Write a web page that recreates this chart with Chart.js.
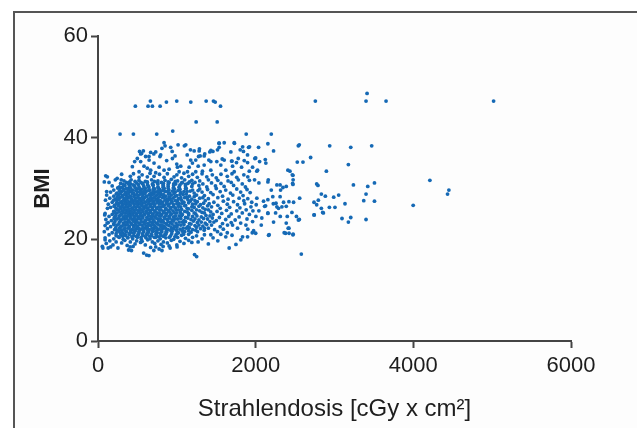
<!DOCTYPE html>
<html>
<head>
<meta charset="utf-8">
<script src="https://cdn.jsdelivr.net/npm/chart.js@4.4.0/dist/chart.umd.min.js"></script>
<style>
  html, body { margin: 0; padding: 0; background: #fff; }
  #wrap { position: relative; width: 637px; height: 428px; overflow: hidden; }
  #frame { position: absolute; left: 13px; top: 11px; right: -5px; bottom: -5px;
           border-left: 2px solid #555; border-top: 2px solid #555; background: #fdfdfd; }
  #chart { position: absolute; left: 0; top: 0; }
</style>
</head>
<body>
<div id="wrap">
  <div id="frame"></div>
  <canvas id="chart" width="637" height="428"></canvas>
</div>
<script>
// Strahlendosis [cGy x cm²] vs. BMI
const xTicks = [0, 2000, 4000, 6000];
const yTicks = [0, 20, 40, 60];

// isolated high values
const outlierPoints = [
  [474,46.2],[635,46.2],[665,47.2],[690,46.2],[788,46.2],[868,47.0],[999,47.2],[1177,47.0],
  [1372,47.2],[1465,47.2],[1487,47.0],[1554,46.2],[2757,47.2],[3413,48.7],[3400,47.2],
  [3654,47.2],[5018,47.2],[1245,43.1],[1512,43.1],
  [280,40.7],[449,40.7],[745,40.7],[948,41.3],[1880,40.7],[2198,40.7]
];

// sparse tail to the right (> ~2000 cGy)
const tailPoints = [
  [2155,38.8],[2541,38.4],[2939,38.4],[3206,38.1],[3472,38.4],[2037,38.1],[2227,37.4],[2697,36.1],
  [2528,35.2],[2600,35.2],[2122,35.7],[2897,33.4],[3176,34.7],[2435,33.4],[2473,32.6],[2015,33.4],
  [3507,31.1],[3422,30.4],[3240,30.7],[2774,30.9],[2790,30.6],[3400,28.9],[3371,27.6],[3507,27.5],
  [4210,31.6],[3998,26.7],[4451,29.7],[4434,28.9],[2558,28.1],[2740,27.3],[2795,27.7],[2833,28.9],
  [2884,28.5],[2990,28.3],[3053,28.7],[3133,27.0],[2935,26.3],[3006,26.3],[2774,26.8],[2833,26.1],
  [2859,25.2],[2740,24.8],[2554,23.9],[3095,24.1],[3176,23.4],[3206,24.3],[3400,23.9],[2579,17.1],
  [2473,20.9],[2380,21.2],[2422,22.2],[2164,20.8],[1957,21.3],[2071,22.8],[2227,23.4],[2460,25.3],
  [2401,24.5],[2312,24.5],[2333,26.4],[2354,27.3],[2481,27.3],[2422,27.4],[2253,25.2],[2155,25.2],
  [2224,27.0],[2269,26.4],[2100,27.5],[2126,26.6],[2015,28.1],[2007,26.8],[1965,25.6],[2041,25.6],
  [2316,29.7],[2346,30.2],[2198,29.7],[2269,30.7],[2155,31.3],[1986,31.7],[2041,31.1],[2473,30.8],
  [2409,33.6],[2050,35.3],[2160,31.7],[2469,31.0],[2850,25.3],[2743,24.8],
  [2553,38.6],[2465,32.7],[2475,31.7],[2388,30.4],[2310,30.7],[2388,26.5],[2517,24.5],[2388,23.2],
  [2413,22.2],[2424,21.2],[2475,21.0],[2362,21.3],[2542,23.8],[2290,26.1],[2258,27.1],[2217,28.4],
  [2310,28.4],[2155,27.8],[2114,26.5],[2155,25.1],[2078,24.2],[2000,21.2],[2171,20.9],[1974,21.7]
];

// upper fringe of the cloud (BMI > ~33)
const upperPoints = [
  [1601,39.0],[1537,38.9],[1728,39.0],[1804,37.6],[1910,38.1],[1685,37.2],[1537,38.1],[1418,37.2],
  [1016,38.6],[1113,38.6],[1220,37.4],[1283,37.4],[1296,36.4],[1347,36.4],[1240,35.6],[1176,35.6],
  [1198,35.0],[1516,37.6],[1507,35.3],[1601,35.6],[1694,35.4],[1779,35.9],[1855,35.5],[1897,35.1],
  [1990,35.9],[1961,34.2],[1821,34.2],[1707,34.4],[1558,34.6],[1431,35.3],[1347,34.6],[1271,34.4],
  [1156,34.2],[1050,34.4],[1008,34.2],[1029,33.3],[1135,33.3],[1240,33.3],[1325,33.4],[1431,33.6],
  [1621,33.6],[1728,33.3],[1919,33.4],[2024,33.6],
  [838,39.0],[851,38.4],[922,38.1],[575,37.4],[541,36.8],[668,37.1],[732,37.2],[795,36.6],
  [499,35.9],[604,36.3],[465,35.3],[541,35.3],[648,35.6],[711,35.0],[871,35.5],[944,35.9],
  [999,34.8],[436,34.3],[584,34.4],[626,34.0],[668,33.6],[775,34.2],[838,33.6],[902,33.8],
  [521,33.3],[732,33.1],
  [1096,38.4],[1173,37.6],[1287,37.8],[1432,37.5],[1457,37.3],[1535,38.9],[1731,38.9],[1835,38.2],
  [1922,38.2],[1845,37.3],[527,37.3],[553,36.9],[646,36.3],[708,36.8],[786,36.3],[811,37.9],
  [941,37.3],[977,36.4],[1132,36.6],[1276,36.3],[1354,36.8],[1406,35.6],[1576,35.8],[1700,35.4],
  [1757,35.1],[1897,36.6],[2000,36.0],[2129,35.0],
  [98,32.5],[140,31.2],[243,32.0],[295,31.7]
];

// lower fringe (BMI < ~19) and left edge
const bottomPoints = [
  [62,18.3],[129,18.3],[253,18.3],[388,17.9],[424,17.8],[579,17.3],[646,16.8],[708,17.8],
  [775,18.1],[811,17.8],[915,18.3],[1003,18.5],[1225,17.0],[1251,16.6],[1664,18.3],
  [55,18.6],[160,18.5],[407,18.5],[445,18.6],[668,18.4],[732,18.5],[826,18.6],[902,18.7],
  [617,16.9],[1516,21.5],[1558,21.0],[1431,20.9],[1621,20.5],[1834,20.5],[1812,19.9],[1897,20.5],
  [1770,22.2],[1262,21.5],[80,31.3],[110,29.4],[95,27.7],[120,26.1],[85,24.8],[115,23.2],[90,19.9]
];

// main cloud, row by row
const clusterPoints = [
  [105,19.2],[190,18.9],[300,19.3],[370,18.8],[470,19.1],[540,19.4],[600,18.9],[720,19.2],[800,19.0],[880,19.3],[1000,18.9],[1090,19.2],[1190,19.4],[1400,19.1],[1750,19.0],
  [150,19.7],[230,19.5],[340,19.8],[410,19.5],[490,19.7],[560,19.6],[630,19.9],[690,19.5],[760,19.7],[830,19.5],[930,19.8],[1040,19.6],[1150,19.8],[1270,19.5],[1520,19.7],
  [90,20.3],[200,20.1],[270,20.4],[320,20.0],[380,20.3],[440,20.1],[500,20.4],[550,20.0],[610,20.3],[660,20.1],[730,20.4],[790,20.1],[860,20.3],[960,20.0],[1010,20.4],[1110,20.2],[1200,20.4],[1320,20.1],[1460,20.3],
  [140,20.9],[230,20.7],[290,21.0],[350,20.8],[400,21.0],[450,20.7],[510,20.9],[570,20.8],[620,21.0],[680,20.7],[740,20.9],[800,20.8],[850,21.0],[920,20.7],[990,20.9],[1060,20.8],[1150,21.0],[1250,20.7],[1350,20.9],[1700,20.8],
  [80,21.5],[180,21.3],[260,21.6],[310,21.3],[360,21.5],[420,21.4],[470,21.6],[520,21.3],[580,21.5],[640,21.4],[700,21.6],[750,21.3],[810,21.5],[870,21.4],[940,21.6],[1020,21.3],[1100,21.5],[1180,21.4],[1347,21.8],[1640,21.3],
  [120,22.1],[210,21.9],[270,22.2],[330,22.0],[380,22.2],[430,21.9],[490,22.1],[540,22.0],[600,22.2],[650,21.9],[710,22.1],[770,22.0],[830,22.2],[890,21.9],[960,22.1],[1040,22.0],[1120,22.2],[1200,21.9],[1300,22.1],[1400,22.2],[1480,21.9],[1590,22.0],[1900,22.0],
  [90,22.7],[160,22.5],[240,22.8],[300,22.6],[350,22.8],[400,22.5],[450,22.7],[500,22.6],[560,22.8],[610,22.5],[670,22.7],[720,22.6],[780,22.8],[840,22.5],[900,22.7],[970,22.6],[1050,22.8],[1140,22.5],[1230,22.7],[1330,22.6],[1440,22.8],[1550,22.5],[1643,22.8],[1707,22.8],[1876,22.8],
  [130,23.3],[200,23.1],[270,23.4],[320,23.2],[370,23.4],[420,23.1],[470,23.3],[520,23.2],[580,23.4],[630,23.1],[690,23.3],[740,23.2],[800,23.4],[860,23.1],[920,23.3],[990,23.2],[1070,23.4],[1160,23.1],[1260,23.3],[1360,23.2],[1470,23.4],[1580,23.1],[1690,23.3],[1810,23.2],[1961,23.5],
  [100,23.9],[170,23.7],[240,24.0],[290,23.8],[340,24.0],[390,23.7],[440,23.9],[490,23.8],[540,24.0],[600,23.7],[650,23.9],[700,23.8],[760,24.0],[820,23.7],[880,23.9],[940,23.8],[1010,24.0],[1090,23.7],[1180,23.9],[1280,23.8],[1390,24.0],[1500,23.7],[1620,23.9],[1740,23.8],[1890,24.0],
  [140,24.5],[210,24.3],[270,24.6],[320,24.4],[370,24.6],[410,24.3],[460,24.5],[510,24.4],[560,24.6],[620,24.3],[670,24.5],[720,24.4],[780,24.6],[840,24.3],[900,24.5],[960,24.4],[1030,24.6],[1110,24.3],[1200,24.5],[1310,24.4],[1420,24.6],[1540,24.3],[1660,24.5],[1790,24.4],[2003,24.5],
  [90,25.1],[180,24.9],[240,25.2],[300,25.0],[350,25.2],[400,24.9],[440,25.1],[490,25.0],[540,25.2],[590,24.9],[640,25.1],[700,25.0],[750,25.2],[810,24.9],[870,25.1],[930,25.0],[1000,25.2],[1070,24.9],[1150,25.1],[1240,25.0],[1350,25.2],[1460,24.9],[1570,25.1],[1690,25.0],[1830,25.2],[1920,24.9],
  [200,25.5],[260,25.8],[310,25.6],[360,25.8],[410,25.5],[460,25.7],[510,25.6],[560,25.8],[610,25.5],[660,25.7],[720,25.6],[780,25.8],[830,25.5],[890,25.7],[950,25.6],[1020,25.8],[1100,25.5],[1190,25.7],[1290,25.6],[1400,25.8],[1510,25.5],[1630,25.7],[1760,25.6],[1880,25.8],
  [160,26.3],[230,26.1],[280,26.4],[330,26.2],[380,26.4],[430,26.1],[480,26.3],[530,26.2],[580,26.4],[630,26.1],[690,26.3],[740,26.2],[800,26.4],[860,26.1],[920,26.3],[980,26.2],[1050,26.4],[1130,26.1],[1220,26.3],[1330,26.2],[1440,26.4],[1550,26.1],[1670,26.3],[1800,26.2],[1940,26.4],
  [130,26.9],[210,26.7],[260,27.0],[310,26.8],[360,27.0],[410,26.7],[460,26.9],[510,26.8],[560,27.0],[610,26.7],[670,26.9],[720,26.8],[780,27.0],[840,26.7],[900,26.9],[960,26.8],[1030,27.0],[1110,26.7],[1200,26.9],[1300,26.8],[1410,27.0],[1520,26.7],[1640,26.9],[1770,26.8],[1860,27.0],
  [180,27.3],[240,27.6],[300,27.4],[350,27.6],[400,27.3],[450,27.5],[500,27.4],[550,27.6],[600,27.3],[650,27.5],[710,27.4],[760,27.6],[820,27.3],[880,27.5],[940,27.4],[1010,27.6],[1090,27.3],[1170,27.5],[1260,27.4],[1360,27.6],[1470,27.3],[1590,27.5],[1720,27.4],[1850,27.6],[1950,27.3],
  [150,28.1],[220,27.9],[280,28.2],[330,28.0],[380,28.2],[430,27.9],[480,28.1],[530,28.0],[590,28.2],[640,27.9],[700,28.1],[760,28.0],[820,28.2],[880,27.9],[950,28.1],[1020,28.0],[1100,28.2],[1190,27.9],[1290,28.1],[1400,28.0],[1520,28.2],[1650,27.9],[1790,28.1],[1900,28.0],
  [110,28.7],[200,28.5],[260,28.8],[310,28.6],[360,28.8],[410,28.5],[460,28.7],[510,28.6],[570,28.8],[620,28.5],[680,28.7],[740,28.6],[800,28.8],[860,28.5],[930,28.7],[1000,28.6],[1080,28.8],[1160,28.5],[1250,28.7],[1350,28.6],[1460,28.8],[1580,28.5],[1710,28.7],[1840,28.6],
  [160,29.3],[240,29.1],[300,29.4],[350,29.2],[400,29.4],[450,29.1],[500,29.3],[560,29.2],[610,29.4],[670,29.1],[730,29.3],[790,29.2],[850,29.4],[910,29.1],[980,29.3],[1050,29.2],[1130,29.4],[1220,29.1],[1320,29.3],[1430,29.2],[1550,29.4],[1680,29.1],[1810,29.3],[1930,29.2],
  [200,29.7],[280,30.0],[330,29.8],[390,30.0],[440,29.7],[490,29.9],[550,29.8],[600,30.0],[660,29.7],[720,29.9],[780,29.8],[840,30.0],[900,29.7],[970,29.9],[1040,29.8],[1120,30.0],[1200,29.7],[1290,29.9],[1390,29.8],[1500,30.0],[1620,29.7],[1760,29.9],[1890,29.8],
  [180,30.5],[270,30.3],[340,30.6],[400,30.4],[460,30.6],[520,30.3],[580,30.5],[640,30.4],[700,30.6],[760,30.3],[830,30.5],[890,30.4],[960,30.6],[1030,30.3],[1110,30.5],[1190,30.4],[1280,30.6],[1380,30.3],[1490,30.5],[1600,30.4],[1720,30.6],[1870,30.3],
  [287,31.0],[360,31.2],[414,30.9],[491,31.1],[563,31.0],[626,31.2],[690,30.9],[753,31.1],[830,31.0],[902,31.2],[986,30.9],[1060,31.1],[1140,31.0],[1230,31.2],[1330,30.9],[1440,31.1],[1560,31.0],[1690,31.2],[1830,30.9],
  [220,31.7],[330,31.5],[420,31.7],[520,31.6],[600,31.4],[680,31.7],[760,31.5],[850,31.6],[930,31.8],[1010,31.5],[1100,31.7],[1190,31.6],[1290,31.5],[1400,31.7],[1520,31.6],[1650,31.5],[1780,31.7],[1920,31.6],
  [118,32.3],[410,32.4],[521,32.2],[626,32.3],[711,32.4],[838,32.2],[965,32.3],[1060,32.1],[1150,32.4],[1260,32.2],[1380,32.3],[1500,32.1],[1640,32.4],[1760,32.2],[1900,32.3],
  [300,32.8],[450,32.9],[560,32.7],[660,33.0],[780,32.8],[880,32.9],[1000,32.7],[1090,33.0],[1200,32.8],[1320,32.9],[1450,32.7],[1560,32.8],[1700,32.9],[1850,32.7]
];

// densest core, filled between the rows above
const corePoints = [
  [260,20.5],[315,20.6],[375,20.4],[430,20.5],[485,20.6],[545,20.4],[600,20.5],[655,20.6],[715,20.4],[770,20.5],[830,20.6],[905,20.4],[975,20.5],
  [230,21.1],[285,21.2],[340,21.0],[395,21.1],[455,21.2],[510,21.0],[565,21.1],[625,21.2],[680,21.0],[735,21.1],[790,21.2],[860,21.0],[935,21.1],[1005,21.2],[1085,21.0],
  [240,21.7],[300,21.8],[355,21.6],[410,21.7],[465,21.8],[520,21.6],[575,21.7],[630,21.8],[690,21.6],[745,21.7],[805,21.8],[865,21.6],[925,21.7],[995,21.8],[1070,21.6],[1150,21.7],[1240,21.8],
  [225,22.3],[285,22.4],[340,22.2],[395,22.3],[455,22.4],[515,22.2],[570,22.3],[625,22.4],[685,22.2],[740,22.3],[800,22.4],[860,22.2],[930,22.3],[1000,22.4],[1080,22.2],[1160,22.3],[1250,22.4],[1350,22.2],
  [200,22.9],[265,23.0],[325,22.8],[375,22.9],[425,23.0],[480,22.8],[535,22.9],[590,23.0],[645,22.8],[700,22.9],[755,23.0],[815,22.8],[875,22.9],[940,23.0],[1010,22.8],[1090,22.9],[1180,23.0],[1280,22.8],[1380,22.9],
  [215,23.5],[285,23.6],[345,23.4],[395,23.5],[445,23.6],[495,23.4],[550,23.5],[605,23.6],[660,23.4],[715,23.5],[770,23.6],[830,23.4],[890,23.5],[955,23.6],[1030,23.4],[1110,23.5],[1210,23.6],[1310,23.4],[1420,23.5],
  [205,24.1],[265,24.2],[315,24.0],[365,24.1],[415,24.2],[465,24.0],[515,24.1],[570,24.2],[625,24.0],[680,24.1],[735,24.2],[790,24.0],[850,24.1],[910,24.2],[975,24.0],[1050,24.1],[1140,24.2],[1230,24.0],[1340,24.1],[1450,24.2],
  [225,24.7],[290,24.8],[345,24.6],[390,24.7],[435,24.8],[485,24.6],[535,24.7],[585,24.8],[640,24.6],[690,24.7],[745,24.8],[800,24.6],[860,24.7],[920,24.8],[985,24.6],[1060,24.7],[1150,24.8],[1255,24.6],[1370,24.7],
  [210,25.3],[270,25.4],[325,25.2],[375,25.3],[425,25.4],[470,25.2],[520,25.3],[570,25.4],[615,25.2],[670,25.3],[725,25.4],[780,25.2],[840,25.3],[905,25.4],[970,25.2],[1045,25.3],[1130,25.4],[1220,25.2],[1320,25.3],[1430,25.4],
  [235,25.9],[290,26.0],[340,25.8],[390,25.9],[435,26.0],[485,25.8],[535,25.9],[585,26.0],[635,25.8],[690,25.9],[745,26.0],[800,25.8],[860,25.9],[920,26.0],[990,25.8],[1060,25.9],[1150,26.0],[1250,25.8],[1360,25.9],
  [205,26.5],[255,26.6],[305,26.4],[355,26.5],[405,26.6],[455,26.4],[505,26.5],[555,26.6],[610,26.4],[660,26.5],[715,26.6],[770,26.4],[830,26.5],[890,26.6],[955,26.4],[1020,26.5],[1100,26.6],[1190,26.4],[1280,26.5],[1390,26.6],
  [235,27.1],[285,27.2],[335,27.0],[385,27.1],[435,27.2],[485,27.0],[540,27.1],[590,27.2],[640,27.0],[695,27.1],[750,27.2],[810,27.0],[870,27.1],[930,27.2],[1000,27.0],[1070,27.1],[1150,27.2],[1240,27.0],[1340,27.1],
  [200,27.7],[265,27.8],[320,27.6],[370,27.7],[420,27.8],[470,27.6],[520,27.7],[575,27.8],[625,27.6],[680,27.7],[735,27.8],[790,27.6],[850,27.7],[915,27.8],[980,27.6],[1060,27.7],[1140,27.8],[1230,27.6],
  [245,28.3],[305,28.4],[355,28.2],[405,28.3],[455,28.4],[505,28.2],[560,28.3],[610,28.4],[665,28.2],[720,28.3],[780,28.4],[840,28.2],[905,28.3],[975,28.4],[1050,28.2],[1130,28.3],[1220,28.4],[1330,28.2],
  [230,28.9],[285,29.0],[335,28.8],[385,28.9],[435,29.0],[490,28.8],[540,28.9],[595,29.0],[650,28.8],[705,28.9],[765,29.0],[830,28.8],[895,28.9],[965,29.0],[1040,28.8],[1120,28.9],
  [270,29.5],[325,29.6],[375,29.4],[425,29.5],[480,29.6],[530,29.4],[585,29.5],[640,29.6],[700,29.4],[760,29.5],[820,29.6],[880,29.4],[945,29.5],[1015,29.6],[1090,29.4],[1170,29.5],[1270,29.6],
  [250,30.1],[310,30.2],[360,30.0],[415,30.1],[470,30.2],[525,30.0],[585,30.1],[645,30.2],[705,30.0],[765,30.1],[825,30.2],[890,30.0],[955,30.1],[1030,30.2],[1110,30.0],
  [320,30.8],[385,30.9],[445,30.7],[510,30.8],[570,30.9],[630,30.7],[695,30.8],[760,30.9],[825,30.7],[890,30.8],[960,30.9],[1040,30.7],[1110,30.8],[1200,30.9],
  [400,31.3],[470,31.4],[545,31.2],[625,31.3],[715,31.4],[805,31.2],[890,31.3],[980,31.4],[1070,31.2],[1160,31.3]
];

const allPoints = [].concat(outlierPoints, tailPoints, upperPoints, bottomPoints, clusterPoints, corePoints)
  .map(p => ({ x: p[0], y: p[1] }));

const axisColor = '#444';
const textColor = '#1e1e1e';
const fontFamily = "'Liberation Sans', Arial, sans-serif";

new Chart(document.getElementById('chart').getContext('2d'), {
  type: 'scatter',
  data: {
    datasets: [{
      label: 'BMI',
      data: allPoints,
      backgroundColor: '#1569b5',
      borderWidth: 0,
      pointRadius: 1.9,
      pointHoverRadius: 1.9
    }]
  },
  options: {
    responsive: false,
    animation: false,
    layout: { padding: { left: 0, top: 36, right: 66, bottom: 0 } },
    plugins: { legend: { display: false }, tooltip: { enabled: false } },
    scales: {
      x: {
        type: 'linear',
        min: xTicks[0],
        max: xTicks[xTicks.length - 1],
        afterFit: s => { s.height = 87; },
        afterBuildTicks: s => { s.ticks = xTicks.map(v => ({ value: v })); },
        ticks: { font: { family: fontFamily, size: 22 }, color: textColor, padding: 5, maxRotation: 0,
                 callback: v => String(v) },
        grid: { drawOnChartArea: false, drawTicks: true, tickLength: 7, tickWidth: 2, tickColor: axisColor },
        border: { color: axisColor, width: 2 },
        title: { display: true, text: 'Strahlendosis [cGy x cm²]', color: textColor,
                 font: { family: fontFamily, size: 24 }, padding: { top: 0, bottom: 4 } }
      },
      y: {
        min: yTicks[0],
        max: yTicks[yTicks.length - 1],
        afterFit: s => { s.width = 98; },
        afterBuildTicks: s => { s.ticks = yTicks.map(v => ({ value: v })); },
        ticks: { font: { family: fontFamily, size: 22 }, color: textColor, padding: 3,
                 callback: v => String(v) },
        grid: { drawOnChartArea: false, drawTicks: true, tickLength: 7, tickWidth: 2, tickColor: axisColor },
        border: { color: axisColor, width: 2 },
        title: { display: true, text: 'BMI', color: textColor,
                 font: { family: fontFamily, size: 22, weight: 'bold' }, padding: { top: 30, bottom: 0 } }
      }
    }
  }
});
</script>
</body>
</html>
